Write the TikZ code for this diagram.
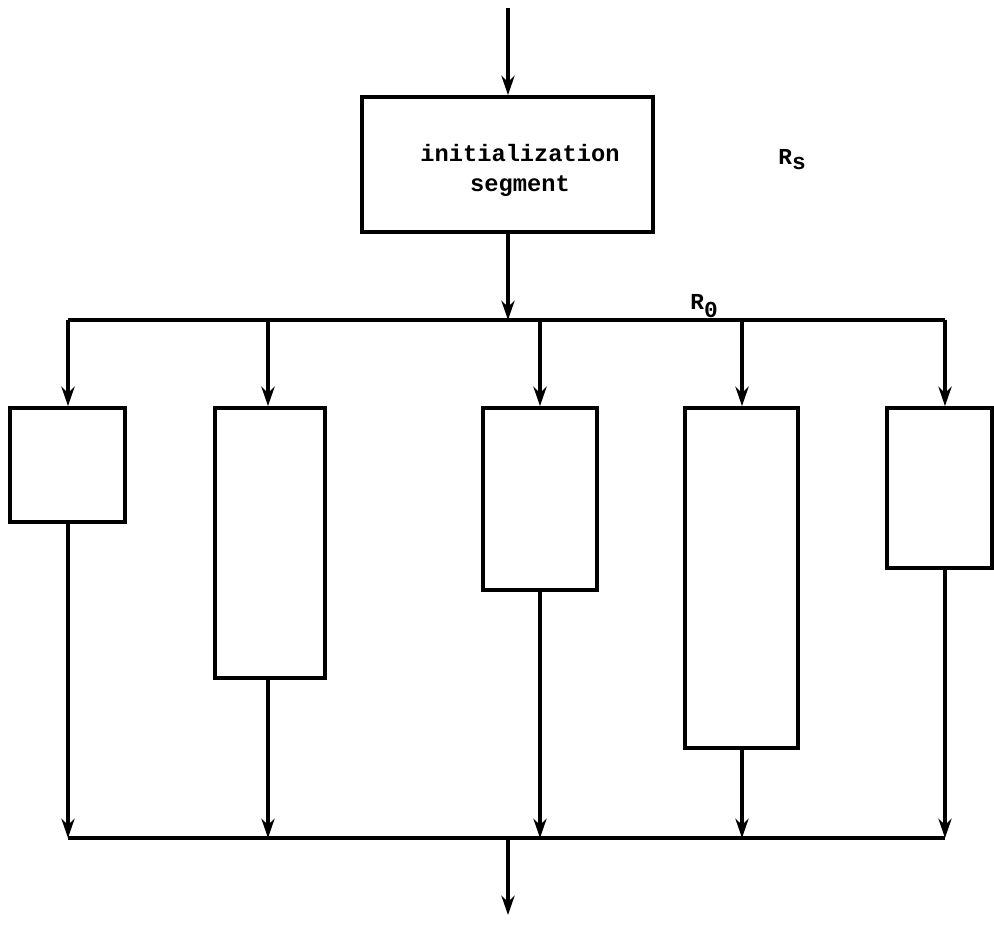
\documentclass[tikz,border=0pt]{standalone}
\usepackage{fontspec}
\setmonofont{Liberation Mono}
\usetikzlibrary{arrows.meta}
\tikzset{
  box/.style={draw, line width=2.2pt, rectangle, inner sep=0pt},
  conn/.style={line width=2pt},
  arr/.style={conn, -{Stealth[length=11pt,width=7.5pt]}},
  lbl/.style={font=\ttfamily\bfseries\fontsize{13}{16}\selectfont, inner sep=0pt}
}
\begin{document}
\begin{tikzpicture}[x=0.02cm,y=-0.02cm]
\useasboundingbox (0,0) rectangle (994,925);
% init box
\node[box, minimum width=5.82cm, minimum height=2.7cm] (init) at (507.5,164.5) {};
\node[lbl, align=center, font=\ttfamily\bfseries\fontsize{13.5}{17}\selectfont] (inittext) at (520,170) {initialization\\segment};
\node[lbl, anchor=base west] (rs) at (778,165) {R\raisebox{-0.35ex}{s}};
\coordinate (in) at (508,8);
\draw[arr] (in) -- (init.north -| in);
% top bus
\coordinate (t1) at (68,320);
\coordinate (t2) at (268,320);
\coordinate (tm) at (508,320);
\coordinate (t3) at (540,320);
\coordinate (t4) at (742,320);
\coordinate (t5) at (945,320);
\draw[arr] (init.south -| tm) -- (tm);
\draw[conn] (t1) -- (t5);
\node[lbl, anchor=base west] (r0) at (690,310) {R\raisebox{-0.6ex}{0}};
% boxes
\node[box, minimum width=2.3cm, minimum height=2.28cm] (b1) at (67.5,465) {};
\node[box, minimum width=2.2cm, minimum height=5.4cm] (b2) at (270,543) {};
\node[box, minimum width=2.28cm, minimum height=3.64cm] (b3) at (540,499) {};
\node[box, minimum width=2.26cm, minimum height=6.8cm] (b4) at (741.5,578) {};
\node[box, minimum width=2.1cm, minimum height=3.2cm] (b5) at (939.5,488) {};
\draw[arr] (t1) -- (b1.north -| t1);
\draw[arr] (t2) -- (b2.north -| t2);
\draw[arr] (t3) -- (b3.north -| t3);
\draw[arr] (t4) -- (b4.north -| t4);
\draw[arr] (t5) -- (b5.north -| t5);
% bottom bus
\coordinate (u1) at (68,838);
\coordinate (u2) at (268,838);
\coordinate (um) at (508,838);
\coordinate (u3) at (540,838);
\coordinate (u4) at (742,838);
\coordinate (u5) at (945,838);
\draw[arr] (b1.south -| u1) -- (u1);
\draw[arr] (b2.south -| u2) -- (u2);
\draw[arr] (b3.south -| u3) -- (u3);
\draw[arr] (b4.south -| u4) -- (u4);
\draw[arr] (b5.south -| u5) -- (u5);
\draw[conn] (u1) -- (u5);
\coordinate (out) at (508,915);
\draw[arr] (um) -- (out);
\end{tikzpicture}
\end{document}
